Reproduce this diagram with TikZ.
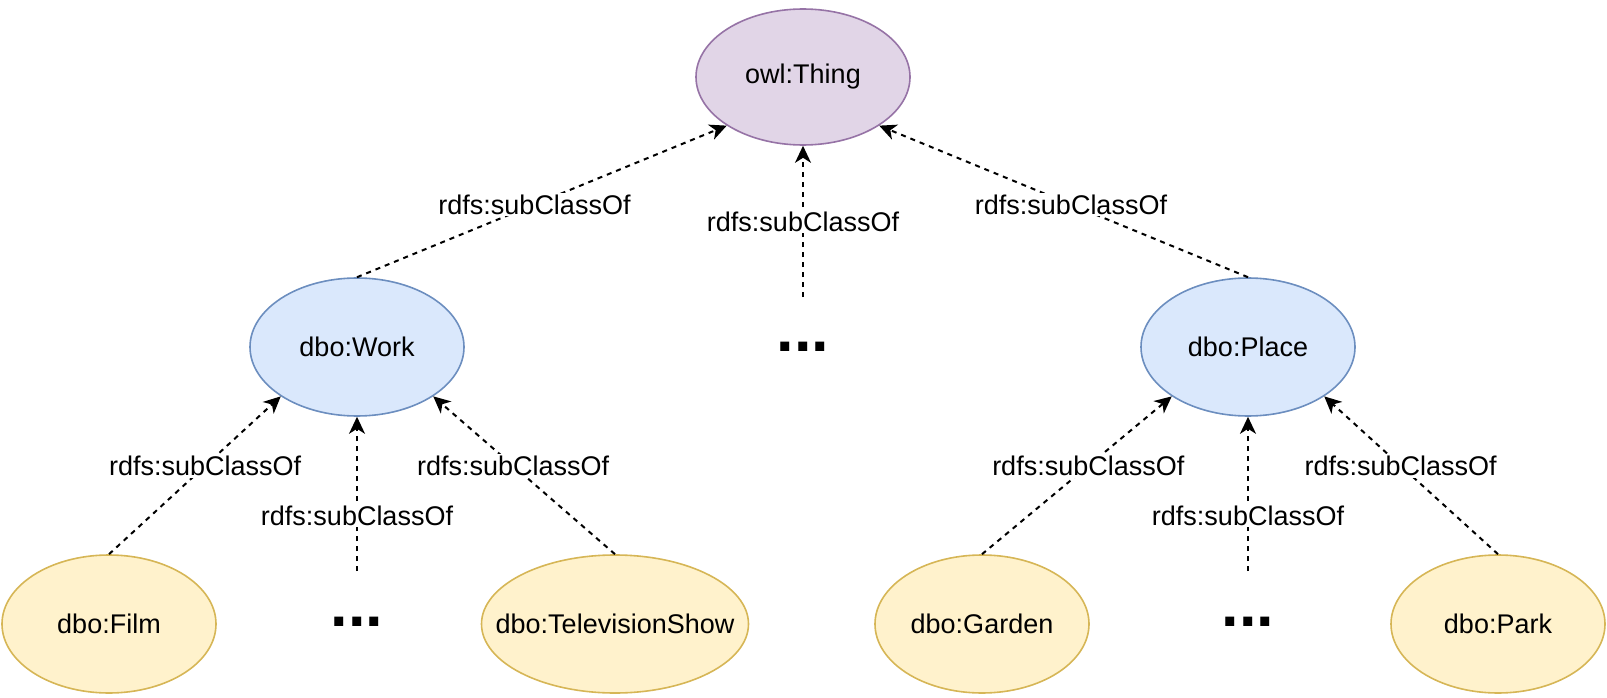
\documentclass[tikz,border=0pt]{standalone}
\usepackage{fontspec}
\setmainfont{Liberation Sans}
\usepackage{tikz}
\usetikzlibrary{arrows.meta}
\usetikzlibrary{shapes.geometric,positioning}

\definecolor{thingfill}{HTML}{E1D5E7}
\definecolor{thingdraw}{HTML}{9673A6}
\definecolor{midfill}{HTML}{DAE8FC}
\definecolor{middraw}{HTML}{6C8EBF}
\definecolor{leaffill}{HTML}{FFF2CC}
\definecolor{leafdraw}{HTML}{D6B656}

\tikzset{
  toplevel/.style={fill=thingfill,draw=thingdraw},
  midlevel/.style={fill=midfill,draw=middraw},
  leaflevel/.style={fill=leaffill,draw=leafdraw},
  subcls/.style={draw,-{Stealth[length=17pt,width=16pt,inset=5pt]},line width=2pt,dash pattern=on 5pt off 5pt},
  lbl/.style={fill=white,inner sep=2pt,font=\fontsize{27}{32}\selectfont},
  dotsmark/.style={inner sep=0pt,font=\bfseries\fontsize{63}{70}\selectfont}
}

\begin{document}
\begin{tikzpicture}[x=1pt,y=-1pt]
		\useasboundingbox (0,0) rectangle (1607,698);
		\begin{scope}[every node/.style={ellipse,line width=1.6pt,inner sep=0pt,minimum width=214pt,minimum height=138pt,font=\fontsize{27}{32}\selectfont}]
			\node[toplevel,minimum height=136pt] (thing) at (803,77) {owl:Thing};

			\node[midlevel] (work) at (357,347) {dbo:Work};
			\node[midlevel] (place) at (1248,347) {dbo:Place};

			\node[leaflevel] (film) at (109,624) {dbo:Film};
			\node[leaflevel,minimum width=267pt,inner xsep=-45pt] (tvshow) at (615,624) {dbo:TelevisionShow};
			\node[leaflevel] (garden) at (982,624) {dbo:Garden};
			\node[leaflevel] (park) at (1498,624) {dbo:Park};
		\end{scope}

		\node[dotsmark] (topdots) at (803,347) {...};
		\node[dotsmark] (workdots) at (357,622) {...};
		\node[dotsmark] (placedots) at (1248,622) {...};

		\coordinate (topmid) at (803,297);
		\coordinate (workmid) at (357,571);
		\coordinate (placemid) at (1248,571);

		\begin{scope}[every edge/.style={subcls}]
			\path (work.north) edge node[lbl,pos=0.48] {rdfs:subClassOf} (thing.south west);
			\path (topmid) edge node[lbl,pos=0.5] {rdfs:subClassOf} (thing.south);
			\path (place.north) edge node[lbl,pos=0.48] {rdfs:subClassOf} (thing.south east);

			\path (film.north) edge node[lbl,pos=0.56] {rdfs:subClassOf} (work.south west);
			\path (workmid) edge node[lbl,pos=0.36] {rdfs:subClassOf} (work.south);
			\path (tvshow.north) edge node[lbl,pos=0.56] {rdfs:subClassOf} (work.south east);

			\path (garden.north) edge node[lbl,pos=0.56] {rdfs:subClassOf} (place.south west);
			\path (placemid) edge node[lbl,pos=0.36] {rdfs:subClassOf} (place.south);
			\path (park.north) edge node[lbl,pos=0.56] {rdfs:subClassOf} (place.south east);
		\end{scope}
	\end{tikzpicture}
\end{document}
